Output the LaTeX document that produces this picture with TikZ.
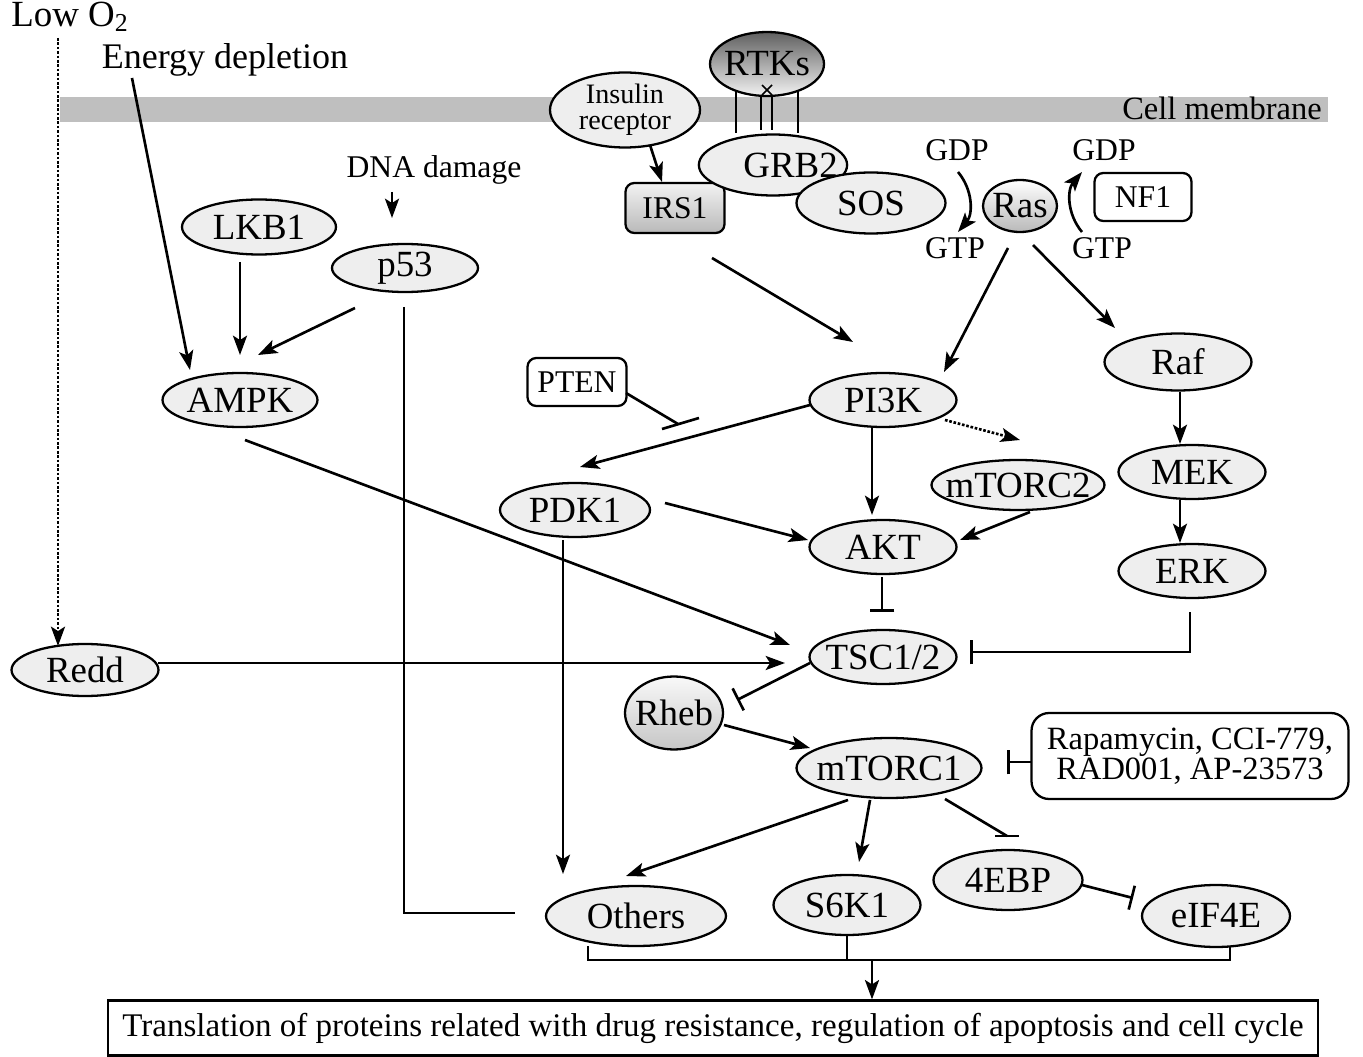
\documentclass[tikz,border=0pt]{standalone}
\usepackage{fontspec}
\setmainfont{Liberation Serif}
\usetikzlibrary{positioning,shapes.geometric,arrows.meta}

\begin{document}
\begin{tikzpicture}[
  x=0.02cm, y=-0.02cm,
  line width=1.5pt,
  >={Stealth[length=11pt,width=8pt,inset=2.5pt]},
  ell/.style={ellipse, draw, line width=1.3pt, fill=gray!13, minimum width=2.94cm, minimum height=1.08cm, inner xsep=-7pt, inner ysep=0pt, font=\fontsize{21}{23}\selectfont},
  rbox/.style={rectangle, rounded corners=5pt, draw, line width=1.3pt, fill=white, inner sep=2pt, font=\fontsize{18}{20}\selectfont},
  lbl/.style={inner sep=0pt, font=\fontsize{18}{20}\selectfont},
  inh/.style={-{Bar[width=14pt]}}
]
\useasboundingbox (0,0) rectangle (1363,1057);

\fill[gray!50] (60,97) rectangle (1328,122);
\node[lbl, font=\fontsize{18.5}{20}\selectfont] (cellmem) at (1222,108) {Cell membrane};

\node[lbl, font=\fontsize{21}{22}\selectfont] (lowo2) at (70,17) {Low O\textsubscript{2}};
\node[lbl, font=\fontsize{20.5}{22}\selectfont] (energy) at (225,60) {Energy depletion};
\node[lbl] (dna) at (434,170) {DNA damage};

\node[ell, minimum width=3.08cm, minimum height=1.1cm] (lkb1) at (259,227) {LKB1};
\node[ell, minimum width=2.92cm, minimum height=0.96cm] (p53) at (405,268) {p53};
\node[ell, minimum width=3.1cm] (ampk) at (240,400) {AMPK};

\node[ell, minimum width=3cm, minimum height=1.5cm, inner ysep=-4pt, align=center, font=\fontsize{16}{15}\selectfont] (insulin) at (625,110) {Insulin\\receptor};
\node[ell, minimum width=2.28cm, minimum height=1.28cm, top color=gray!75!black, bottom color=gray!10] (rtks) at (767,64) {RTKs};
\node[rbox, minimum width=1.98cm, minimum height=1cm, top color=gray!10, bottom color=gray!55] (irs1) at (675,208) {IRS1};
\node[ell, minimum width=2.96cm, minimum height=1.22cm] (grb2) at (773,165) {\hspace{20pt}GRB2};
\node[ell, minimum width=2.98cm, minimum height=1.22cm] (sos) at (871,203) {SOS};

\node[lbl] (gdpl) at (957,150) {GDP};
\node[lbl] (gtpl) at (955,248) {GTP};
\node[ell, minimum width=1.48cm, minimum height=1.04cm, top color=white, bottom color=gray!55] (ras) at (1020,206) {Ras};
\node[lbl] (gdpr) at (1104,150) {GDP};
\node[lbl] (gtpr) at (1102,248) {GTP};
\node[rbox, minimum width=1.94cm, minimum height=0.96cm] (nf1) at (1143,197) {NF1};

\node[rbox, minimum width=1.98cm, minimum height=0.96cm] (pten) at (577,382) {PTEN};
\node[ell] (pi3k) at (883,400) {PI3K};
\node[ell, minimum height=1.14cm] (raf) at (1178,362) {Raf};
\node[ell, minimum width=3cm] (pdk1) at (575,510) {PDK1};
\node[ell, minimum width=3.46cm, minimum height=1cm] (mtorc2) at (1018,485) {mTORC2};
\node[ell] (akt) at (883,547) {AKT};
\node[ell] (mek) at (1192,472) {MEK};
\node[ell] (erk) at (1192,571) {ERK};
\node[ell] (tsc) at (883,657) {TSC1/2};
\node[ell, minimum height=1.04cm] (redd) at (85,670) {Redd};
\node[ell, minimum width=1.96cm, minimum height=1.46cm, top color=gray!5, bottom color=gray!45] (rheb) at (674,713) {Rheb};
\node[ell, minimum width=3.7cm, minimum height=1.2cm] (mtorc1) at (889,768) {mTORC1};
\node[rbox, minimum width=6.34cm, minimum height=1.72cm, rounded corners=10pt, align=center, font=\fontsize{18.5}{17}\selectfont] (drugs) at (1190,756) {Rapamycin, CCI-779,\\RAD001, AP-23573};
\node[ell, minimum width=2.98cm, minimum height=1.2cm] (ebp) at (1008,880) {4EBP};
\node[ell, minimum width=2.96cm, minimum height=1.24cm] (eif) at (1216,916) {eIF4E};
\node[ell, minimum width=3.6cm, minimum height=1.2cm] (others) at (636,916) {Others};
\node[ell, minimum height=1.2cm] (s6k1) at (847,905) {S6K1};
\node[rectangle, draw, line width=1.3pt, minimum width=24.2cm, minimum height=1.1cm, font=\fontsize{18.8}{20}\selectfont] (transl) at (713,1028) {Translation of proteins related with drug resistance, regulation of apoptosis and cell cycle};

\draw ([shift={(-31,27)}]rtks.center) -- ([shift={(-37,-32)}]grb2.center);
\draw ([shift={(-6,31)}]rtks.center) -- ([shift={(-12,-35)}]grb2.center);
\draw ([shift={(5,31)}]rtks.center) -- ([shift={(-1,-35)}]grb2.center);
\draw ([shift={(31,27)}]rtks.center) -- ([shift={(25,-32)}]grb2.center);
\draw[line width=0.9pt] ([shift={(-5,21)}]rtks.center) -- ([shift={(5,31)}]rtks.center);
\draw[line width=0.9pt] ([shift={(5,21)}]rtks.center) -- ([shift={(-5,31)}]rtks.center);

\draw[->, densely dotted] ([shift={(-12,21)}]lowo2.center) -- ([shift={(-27,-24)}]redd.center);
\draw[->] ([shift={(-93,18)}]energy.center) -- ([shift={(-50,-30)}]ampk.center);
\draw[->] ([shift={(-42,22)}]dna.center) -- ([shift={(-13,-50)}]p53.center);
\draw[->] ([shift={(-19,35)}]lkb1.center) -- ([shift={(0,-45)}]ampk.center);
\draw[->] ([shift={(-50,40)}]p53.center) -- ([shift={(18,-45)}]ampk.center);
\draw ([shift={(-1,39)}]p53.center) |- ([shift={(-121,-3)}]others.center);

\draw[->] ([shift={(25,35)}]insulin.center) -- ([shift={(-13,-26)}]irs1.center);
\draw[->] ([shift={(1,22)}]gdpl.center) to[bend left=40] ([shift={(3,-16)}]gtpl.center);
\draw[->] ([shift={(-20,-16)}]gtpr.center) to[bend left=40] ([shift={(-22,22)}]gdpr.center);

\draw[->] ([shift={(37,50)}]irs1.center) -- ([shift={(-30,-58)}]pi3k.center);
\draw[->] ([shift={(-12,42)}]ras.center) -- ([shift={(61,-28)}]pi3k.center);
\draw[->] ([shift={(13,39)}]ras.center) -- ([shift={(-63,-34)}]raf.center);

\coordinate (ptenbar) at ([shift={(101,42)}]pten.center);
\draw ([shift={(49,11)}]pten.center) -- (ptenbar);
\draw ([shift={(-16,5)}]ptenbar) -- ([shift={(21,-6)}]ptenbar);

\draw[->] ([shift={(-73,5)}]pi3k.center) -- ([shift={(5,-43)}]pdk1.center);
\draw[->] ([shift={(-11,28)}]pi3k.center) -- ([shift={(-11,-32)}]akt.center);
\draw[->, densely dotted] ([shift={(62,20)}]pi3k.center) -- ([shift={(2,-45)}]mtorc2.center);
\draw[->] ([shift={(2,30)}]raf.center) -- ([shift={(-12,-28)}]mek.center);
\draw[->] ([shift={(-12,28)}]mek.center) -- ([shift={(-12,-28)}]erk.center);
\draw[->] ([shift={(90,-7)}]pdk1.center) -- ([shift={(-75,-7)}]akt.center);
\draw[->] ([shift={(12,27)}]mtorc2.center) -- ([shift={(77,-7)}]akt.center);

\draw[inh] ([shift={(-2,41)}]erk.center) |- ([shift={(87,-5)}]tsc.center);
\draw[inh] ([shift={(-1,30)}]akt.center) -- ([shift={(-1,-45)}]tsc.center);
\draw[->] ([shift={(5,40)}]ampk.center) -- ([shift={(-93,-12)}]tsc.center);
\draw[->] ([shift={(73,-7)}]redd.center) -- ([shift={(-98,6)}]tsc.center);
\draw[inh] ([shift={(-73,6)}]tsc.center) -- ([shift={(63,-13)}]rheb.center);
\draw[->] ([shift={(50,12)}]rheb.center) -- ([shift={(-79,-20)}]mtorc1.center);
\draw[inh] ([shift={(-158,6)}]drugs.center) -- ([shift={(118,-6)}]mtorc1.center);

\coordinate (ebpbar) at ([shift={(-1,-44)}]ebp.center);
\draw ([shift={(56,31)}]mtorc1.center) -- (ebpbar);
\draw ([shift={(-12,0)}]ebpbar) -- ([shift={(12,0)}]ebpbar);
\draw[inh] ([shift={(74,5)}]ebp.center) -- ([shift={(-83,-18)}]eif.center);

\draw[->] ([shift={(-41,32)}]mtorc1.center) -- ([shift={(-10,-40)}]others.center);
\draw[->] ([shift={(-19,32)}]mtorc1.center) -- ([shift={(12,-43)}]s6k1.center);
\draw[->] ([shift={(-12,30)}]pdk1.center) -- ([shift={(-73,-42)}]others.center);

\draw ([shift={(-48,30)}]others.center) |- ([shift={(14,44)}]eif.center) -- ([shift={(14,31)}]eif.center);
\draw ([shift={(0,30)}]s6k1.center) -- ([shift={(0,55)}]s6k1.center);
\coordinate (join) at ([shift={(25,55)}]s6k1.center);
\draw[->] (join) -- (join |- transl.north);

\end{tikzpicture}
\end{document}
